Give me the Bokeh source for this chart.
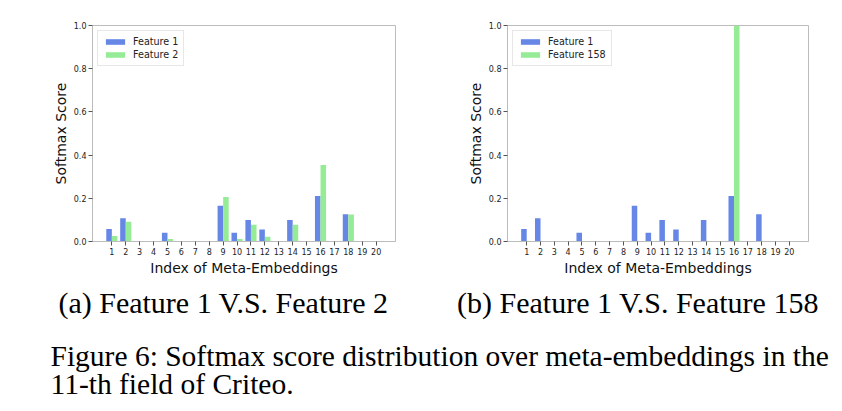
from bokeh.plotting import figure
from bokeh.layouts import row, column
from bokeh.models import Range1d, FixedTicker, PrintfTickFormatter, ColumnDataSource, Legend, LegendItem
from bokeh.transform import dodge
from bokeh.core.properties import value
from bokeh.embed import file_html
from bokeh.resources import INLINE

# ---- data ----
indices = [1, 2, 3, 4, 5, 6, 7, 8, 9, 10, 11, 12, 13, 14, 15, 16, 17, 18, 19, 20]
tick_labels = ["1", "2", "3", "4", "5", "6", "7", "8", "9", "10",
               "11", "12", "13", "14", "15", "16", "17", "18", "19", "20"]
feature1 = [0.058, 0.108, 0.0, 0.0, 0.040, 0.0, 0.0, 0.0, 0.165, 0.040,
            0.100, 0.055, 0.0, 0.100, 0.0, 0.211, 0.0, 0.126, 0.0, 0.0]
feature2 = [0.025, 0.091, 0.0, 0.0, 0.012, 0.0, 0.0, 0.0, 0.206, 0.012,
            0.077, 0.022, 0.0, 0.077, 0.0, 0.354, 0.0, 0.125, 0.0, 0.0]
feature158 = [0.0, 0.0, 0.0, 0.0, 0.0, 0.0, 0.0, 0.0, 0.0, 0.0,
              0.0, 0.0, 0.0, 0.0, 0.0, 1.0, 0.0, 0.0, 0.0, 0.0]
y_ticks = [0.0, 0.2, 0.4, 0.6, 0.8, 1.0]

captions_sub = ["(a) Feature 1 V.S. Feature 2", "(b) Feature 1 V.S. Feature 158"]
caption_lines = ["Figure 6: Softmax score distribution over meta-embeddings in the",
                 "11-th field of Criteo."]

BLUE = "#6787e7"
GREEN = "#96ec96"
SANS = "DejaVu Sans"
SERIF = "Liberation Serif"


def make_chart(second, second_name, border_left, frame_w, border_right):
    src = ColumnDataSource(dict(idx=indices, f1=feature1, f2=second))
    p = figure(width=border_left + frame_w + border_right, height=280,
               frame_width=frame_w, frame_height=216,
               x_range=Range1d(-0.39, 21.39), y_range=Range1d(0, 1.0),
               output_backend="svg", toolbar_location=None,
               min_border_left=border_left, min_border_right=border_right,
               min_border_top=25, min_border_bottom=39)
    r1 = p.vbar(x=dodge("idx", -0.2), top="f1", width=0.4, source=src,
                fill_color=BLUE, line_color=None)
    r2 = p.vbar(x=dodge("idx", 0.2), top="f2", width=0.4, source=src,
                fill_color=GREEN, line_color=None)
    p.xgrid.visible = False
    p.ygrid.visible = False
    p.outline_line_color = "#bcbcbc"
    p.background_fill_color = "white"
    p.border_fill_color = "white"

    p.xaxis.ticker = FixedTicker(ticks=indices)
    p.xaxis.major_label_overrides = {i: s for i, s in zip(indices, tick_labels)}
    p.yaxis.ticker = FixedTicker(ticks=y_ticks)
    p.yaxis.formatter = PrintfTickFormatter(format="%.1f")
    for ax in (p.xaxis[0], p.yaxis[0]):
        ax.axis_line_color = "#bcbcbc"
        ax.major_tick_line_color = "#555555"
        ax.major_tick_out = 4
        ax.major_tick_in = 0
        ax.minor_tick_line_color = None
        ax.major_label_text_font = SANS
        ax.major_label_text_font_size = "8px"
        ax.major_label_text_color = "#222222"
        ax.major_label_standoff = 2
        ax.axis_label_text_font = SANS
        ax.axis_label_text_font_size = "14px"
        ax.axis_label_text_font_style = "normal"
        ax.axis_label_text_color = "#111111"
        ax.axis_label_standoff = 2
    p.xaxis.axis_label = "Index of Meta-Embeddings"
    p.yaxis.axis_label = "Softmax Score"

    legend = Legend(items=[LegendItem(label="Feature 1", renderers=[r1]),
                           LegendItem(label=second_name, renderers=[r2])],
                    location="top_left", margin=5, padding=5, spacing=2,
                    glyph_width=24, glyph_height=7, label_height=11,
                    label_standoff=6,
                    label_text_font=SANS, label_text_font_size="9.6px",
                    label_text_color="#222222",
                    border_line_color="#d0d0d0", background_fill_alpha=1.0)
    p.add_layout(legend)
    return p


p1 = make_chart(feature2, "Feature 2", 92, 303, 28)
p2 = make_chart(feature158, "Feature 158", 84, 301, 18)

cap = figure(width=834, height=123, x_range=Range1d(0, 834), y_range=Range1d(403, 280),
             output_backend="svg", toolbar_location=None,
             min_border=0, min_border_left=0, min_border_right=0,
             min_border_top=0, min_border_bottom=0)
cap.axis.visible = False
cap.grid.visible = False
cap.outline_line_color = None
cap.text(x=[223, 637.5], y=[302, 302], text=captions_sub,
         text_font=value(SERIF), text_font_size="30px",
         text_align="center", text_baseline="middle", text_color="black")
cap.text(x=[50, 50], y=[355, 383], text=caption_lines,
         text_font=value(SERIF), text_font_size="29.5px",
         text_align="left", text_baseline="middle", text_color="black")

layout = column(row(p1, p2), cap)
open("out.html", "w").write(file_html(layout, INLINE))
